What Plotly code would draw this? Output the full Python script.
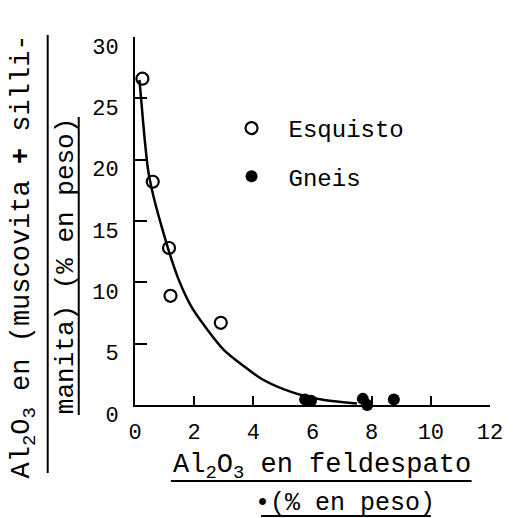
import plotly.graph_objects as go

# Esquisto (schist) samples: open circles
esquisto_x = [0.25, 0.6, 1.15, 1.2, 2.9]
esquisto_y = [26.6, 18.2, 12.8, 8.9, 6.7]

# Gneis samples: filled circles
gneis_x = [5.75, 5.95, 7.7, 7.85, 8.75]
gneis_y = [0.45, 0.35, 0.5, 0.0, 0.45]

# Hand-drawn trend curve through both groups
curve_x = [0.15, 0.22, 0.33, 0.44, 0.55, 0.71, 0.93, 1.15, 1.48, 1.91, 2.46, 3.0, 3.66, 4.3, 5.3, 6.4, 7.5]
curve_y = [26.5, 24.6, 21.6, 19.2, 17.8, 16.2, 14.3, 12.5, 10.2, 8.0, 6.1, 4.5, 3.2, 2.1, 1.05, 0.4, 0.13]

x_ticks = [0, 2, 4, 6, 8, 10, 12]
y_ticks = [0, 5, 10, 15, 20, 25, 30]

W, H = 515, 518
L, R, T, B = 135, 14, 37, 113
PW, PH = W - L - R, H - T - B

FONT = "Liberation Mono"
INK = "black"


def px(x):
    return (x - L) / PW


def py(y):
    return (H - B - y) / PH


fig = go.Figure()

fig.add_trace(go.Scatter(
    x=curve_x, y=curve_y, mode="lines", line=dict(color=INK, width=2.5, shape="spline", smoothing=0.8),
    showlegend=False, hoverinfo="skip", cliponaxis=False,
))
fig.add_trace(go.Scatter(
    x=esquisto_x, y=esquisto_y, mode="markers", name="Esquisto",
    marker=dict(symbol="circle-open", size=12, color=INK, line=dict(width=2.2, color=INK)),
    cliponaxis=False, legendgroup="a",
))
fig.add_trace(go.Scatter(
    x=gneis_x, y=gneis_y, mode="markers", name="Gneis",
    marker=dict(symbol="circle", size=12, color=INK),
    cliponaxis=False, legendgroup="b",
))

axis_common = dict(
    showgrid=False, zeroline=False, showline=True, linecolor=INK, linewidth=2,
    ticks="inside", tickcolor=INK, tickwidth=2,
    tickfont=dict(family=FONT, size=22, color=INK),
)

fig.update_xaxes(range=[0, 12], tickvals=x_ticks, ticklen=9, ticklabelstandoff=6, **axis_common)
fig.update_yaxes(range=[0, 30], tickvals=y_ticks, ticklen=12, ticklabelstandoff=10,
                 ticklabelshift=9, **axis_common)

annotations = []
shapes = []

# x-axis title as a fraction
annotations.append(dict(x=px(328), y=py(467), xref="paper", yref="paper", showarrow=False,
                        text="Al<sub>2</sub>O<sub>3</sub> en feldespato",
                        font=dict(family=FONT, size=27, color=INK), xanchor="center", yanchor="middle"))
shapes.append(dict(type="line", xref="paper", yref="paper", x0=px(172), x1=px(482), y0=py(481), y1=py(481),
                   line=dict(color=INK, width=2)))
annotations.append(dict(x=px(352), y=py(503), xref="paper", yref="paper", showarrow=False,
                        text="•(% en peso)",
                        font=dict(family=FONT, size=25, color=INK), xanchor="center", yanchor="middle"))
shapes.append(dict(type="line", xref="paper", yref="paper", x0=px(265), x1=px(440), y0=py(516), y1=py(516),
                   line=dict(color=INK, width=2)))

# y-axis title as a rotated fraction
annotations.append(dict(x=px(21), y=py(256), xref="paper", yref="paper", showarrow=False, textangle=-90,
                        text="Al<sub>2</sub>O<sub>3</sub> en (muscovita <b>+</b> silli-",
                        font=dict(family=FONT, size=27, color=INK), xanchor="center", yanchor="middle"))
shapes.append(dict(type="line", xref="paper", yref="paper", x0=px(45), x1=px(45), y0=py(35), y1=py(473),
                   line=dict(color=INK, width=2)))
annotations.append(dict(x=px(64), y=py(266), xref="paper", yref="paper", showarrow=False, textangle=-90,
                        text="manita) (% en peso)",
                        font=dict(family=FONT, size=26, color=INK), xanchor="center", yanchor="middle"))
shapes.append(dict(type="line", xref="paper", yref="paper", x0=px(77), x1=px(77), y0=py(117), y1=py(415),
                   line=dict(color=INK, width=2)))

fig.update_layout(
    width=W, height=H,
    margin=dict(l=L, r=R, t=T, b=B),
    paper_bgcolor="white", plot_bgcolor="white",
    showlegend=True,
    legend=dict(x=px(217), y=py(106), xanchor="left", yanchor="top", xref="paper", yref="paper",
                font=dict(family=FONT, size=24, color=INK), bgcolor="rgba(0,0,0,0)",
                itemwidth=64, tracegroupgap=14),
    annotations=annotations,
    shapes=shapes,
)

fig.write_html("out.html")
